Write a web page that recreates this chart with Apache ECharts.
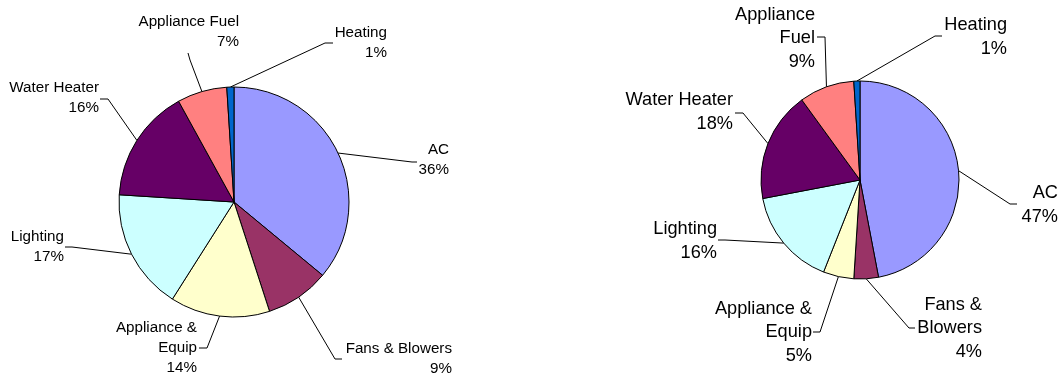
<!DOCTYPE html>
<html>
<head>
<meta charset="utf-8">
<script src="https://cdn.jsdelivr.net/npm/echarts@6/dist/echarts.min.js"></script>
<style>
html,body{margin:0;padding:0;background:#fff;}
#chart{width:1063px;height:380px;}
</style>
</head>
<body>
<div id="chart"></div>
<script>
// ---- data ----
const categories = ['AC', 'Fans & Blowers', 'Appliance & Equip', 'Lighting', 'Water Heater', 'Appliance Fuel', 'Heating'];
const leftValues = [36, 9, 14, 17, 16, 7, 1];
const rightValues = [47, 4, 5, 16, 18, 9, 1];
const leftLabelNames = ['AC', 'Fans & Blowers', 'Appliance &\nEquip', 'Lighting', 'Water Heater', 'Appliance Fuel', 'Heating'];
const rightLabelNames = ['AC', 'Fans &\nBlowers', 'Appliance &\nEquip', 'Lighting', 'Water Heater', 'Appliance\nFuel', 'Heating'];

// ---- styles / layout ----
const colors = ['#9999FF', '#993366', '#FFFFCC', '#CCFFFF', '#660066', '#FF8080', '#0066CC'];
// [textX(right edge), textY(middle), elbowX, elbowY, endX, endY]
const leftLabelPos = [
  [449, 160, 412, 162, 417, 162],
  [452, 358.5, 335, 359, 342, 359],
  [197, 348, 207, 348, 199, 348],
  [64, 247, 72, 247, 65, 247],
  [99, 98, 108, 99, 100, 99],
  [239, 31.5, 190, 60, 188, 53],
  [387, 43, 325, 43, 333, 43]
];
const rightLabelPos = [
  [1058, 205, 1010, 204, 1017, 204],
  [982, 328, 909, 328, 915, 328],
  [812, 332, 820, 332, 813, 332],
  [717, 241, 725, 240, 718, 240],
  [733, 112, 743, 113, 735, 113],
  [815, 38, 825, 37, 817, 37],
  [1007, 37, 935, 36, 942, 36]
];

function buildData(values, labelNames) {
  return categories.map((c, i) => ({
    name: c,
    value: values[i],
    labelText: labelNames[i],
    itemStyle: { color: colors[i] }
  }));
}

const chart = echarts.init(document.getElementById('chart'), null, { renderer: 'canvas' });

function makeSeries(values, labelNames, center, radius, fontSize, lineHeight, posArr) {
  const data = buildData(values, labelNames);
  return {
    type: 'pie',
    center: center,
    radius: radius,
    startAngle: 90,
    clockwise: true,
    animation: false,
    avoidLabelOverlap: false,
    data: data,
    itemStyle: { borderColor: '#000', borderWidth: 1 },
    label: {
      show: true,
      position: 'outside',
      formatter: p => data[p.dataIndex].labelText + '\n' + p.value + '%',
      fontFamily: 'Liberation Sans, Arial, sans-serif',
      fontSize: fontSize,
      lineHeight: lineHeight,
      color: '#000',
      align: 'right'
    },
    labelLine: { show: true, length: 10, length2: 10, smooth: false, lineStyle: { color: '#000', width: 1 } },
    emphasis: { disabled: true },
    labelLayout: function (params) {
      const pos = posArr[params.dataIndex];
      const anchor = params.labelLinePoints ? params.labelLinePoints[0] : [pos[2], pos[3]];
      return {
        x: pos[0],
        y: pos[1],
        align: 'right',
        verticalAlign: 'middle',
        labelLinePoints: [anchor, [pos[2], pos[3]], [pos[4], pos[5]]]
      };
    }
  };
}

chart.setOption({
  backgroundColor: '#fff',
  animation: false,
  series: [
    makeSeries(leftValues, leftLabelNames, [234, 202], 115, 15.2, 20, leftLabelPos),
    makeSeries(rightValues, rightLabelNames, [860, 180], 99, 18.2, 23.5, rightLabelPos)
  ]
});
</script>
</body>
</html>
